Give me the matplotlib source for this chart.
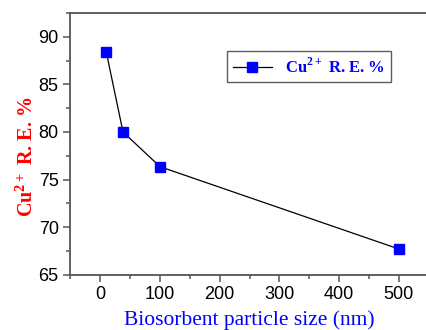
import matplotlib.pyplot as plt
from matplotlib.ticker import MultipleLocator

plt.rcParams['mathtext.fontset'] = 'custom'
plt.rcParams['mathtext.rm'] = 'Liberation Serif:bold'
plt.rcParams['mathtext.bf'] = 'Liberation Serif:bold'

# datos
tamano = [10, 38, 100, 500]
remocion = [88.4, 80.0, 76.35, 67.7]

fig = plt.figure(figsize=(4.27, 3.3), dpi=100)
ax = fig.add_axes([0.165, 0.1676, 0.839, 0.793])

ax.plot(tamano, remocion, color='black', linewidth=0.9, marker='s',
        markersize=6.5, markerfacecolor='blue', markeredgecolor='blue',
        label=r'Cu$^{\mathrm{2+}}$ R. E. %')

ax.set_xlim(-50, 550)
ax.set_ylim(65, 92.5)
ax.xaxis.set_major_locator(MultipleLocator(100))
ax.xaxis.set_minor_locator(MultipleLocator(50))
ax.yaxis.set_major_locator(MultipleLocator(5))
ax.yaxis.set_minor_locator(MultipleLocator(2.5))

for s in ax.spines.values():
    s.set_color('#555555')
    s.set_linewidth(1.3)

ax.tick_params(which='both', direction='out', colors='#555555', width=1.1,
               labelcolor='black', labelsize=13)
ax.tick_params(which='major', length=5)
ax.tick_params(which='minor', length=3)
for t in ax.get_xticklabels() + ax.get_yticklabels():
    t.set_family('Liberation Sans')

ax.set_xlabel('Biosorbent particle size (nm)', color='blue',
              family='Liberation Serif', fontsize=15.5)
ax.xaxis.set_label_coords(0.5, -0.135)
ax.set_ylabel(r'Cu$^{\mathrm{2+}}$ R. E. %', color='red',
              family='Liberation Serif', fontsize=14.5, fontweight='bold')
ax.yaxis.set_label_coords(-0.09, 0.45)

leg = ax.legend(loc='upper left', bbox_to_anchor=(0.415, 0.885), frameon=True,
                fancybox=False, edgecolor='#333333', handlelength=2.3,
                borderpad=0.35, prop={'family': 'Liberation Serif', 'weight': 'bold', 'size': 12})
leg.get_frame().set_linewidth(1.0)
for t in leg.get_texts():
    t.set_color('blue')

fig.savefig('out.png', dpi=100)
